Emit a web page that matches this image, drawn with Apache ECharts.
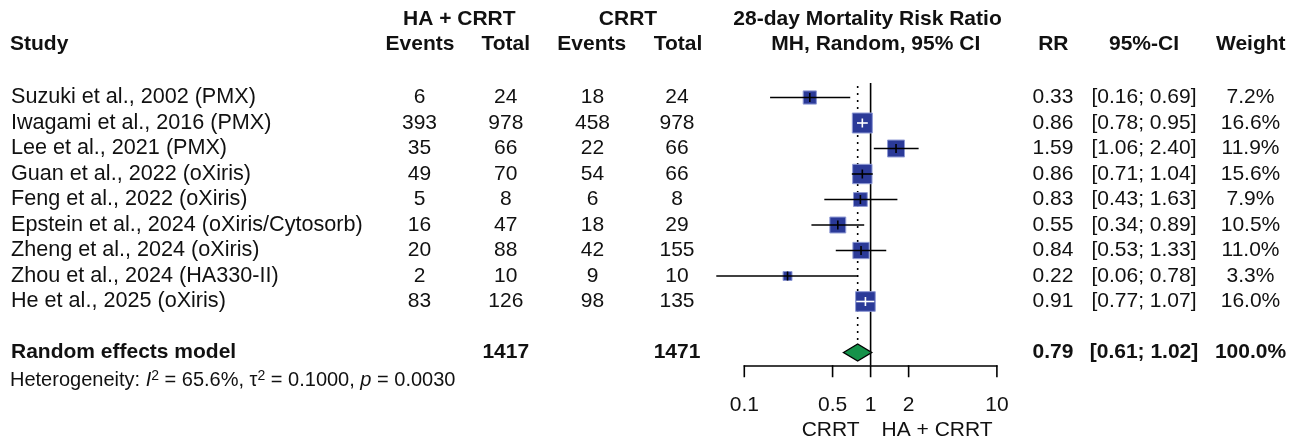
<!DOCTYPE html>
<html><head><meta charset="utf-8">
<script src="https://cdn.jsdelivr.net/npm/echarts@6/dist/echarts.min.js"></script>
<style>html,body{margin:0;padding:0;background:#fff}#c{width:1303px;height:443px}</style>
</head><body><div id="c"></div>
<script>
// ---------- data ----------
const studies = [
  'Suzuki et al., 2002 (PMX)',
  'Iwagami et al., 2016 (PMX)',
  'Lee et al., 2021 (PMX)',
  'Guan et al., 2022 (oXiris)',
  'Feng et al., 2022 (oXiris)',
  'Epstein et al., 2024 (oXiris/Cytosorb)',
  'Zheng et al., 2024 (oXiris)',
  'Zhou et al., 2024 (HA330-II)',
  'He et al., 2025 (oXiris)'
];
const eventsHA   = [6, 393, 35, 49, 5, 16, 20, 2, 83];
const totalHA    = [24, 978, 66, 70, 8, 47, 88, 10, 126];
const eventsCRRT = [18, 458, 22, 54, 6, 18, 42, 9, 98];
const totalCRRT  = [24, 978, 66, 66, 8, 29, 155, 10, 135];
const rr     = [0.33, 0.86, 1.59, 0.86, 0.83, 0.55, 0.84, 0.22, 0.91];
const ciLow  = [0.16, 0.78, 1.06, 0.71, 0.43, 0.34, 0.53, 0.06, 0.77];
const ciHigh = [0.69, 0.95, 2.40, 1.04, 1.63, 0.89, 1.33, 0.78, 1.07];
const weight = [7.2, 16.6, 11.9, 15.6, 7.9, 10.5, 11.0, 3.3, 16.0];
const pooledRR = 0.79, pooledLow = 0.61, pooledHigh = 1.02;
const pooledTotalHA = 1417, pooledTotalCRRT = 1471, pooledWeight = 100.0;
const hetI2 = '65.6%', hetTau2 = '0.1000', hetP = '0.0030';
const xTicks = [0.1, 0.5, 1, 2, 10];

// ---------- layout / style ----------
const FONT = '"Liberation Sans", Arial, Helvetica, sans-serif';
const FS = 21;
const FS_STUDY = 21.6;
const TXT = '#111';
const SQ_FILL = '#2b3a98', SQ_EDGE = '#8e99d4', DIA_FILL = '#15924a';
const col = {study: 11, evHA: 419.5, totHA: 505.8, evC: 592.5, totC: 677, rr: 1053, ci: 1144, w: 1250.5};
const pooledRow = studies.length + 1;   // row index of the summary line
const rowHead1 = -3.07, rowHead2 = -2.1, rowHet = 11.1, rowSide = 13.04;
const Y_MIN = -3.5, Y_MAX = 10.5;
const GRID_TOP = 8.25, GRID_H = 357;
const DIA_H = 8.5;   // px half-height of diamond

const texts = [];
function T(x, row, text, opt) { texts.push(Object.assign({x, row, text}, opt || {})); }
// headers
T(459.3, rowHead1, 'HA + CRRT', {bold: true});
T(628, rowHead1, 'CRRT', {bold: true});
T(867.5, rowHead1, '28-day Mortality Risk Ratio', {bold: true});
T(10, rowHead2, 'Study', {bold: true, align: 'left'});
T(420, rowHead2, 'Events', {bold: true});
T(505.8, rowHead2, 'Total', {bold: true});
T(591.7, rowHead2, 'Events', {bold: true});
T(678, rowHead2, 'Total', {bold: true});
T(875.8, rowHead2, 'MH, Random, 95% CI', {bold: true});
T(1053.3, rowHead2, 'RR', {bold: true});
T(1144, rowHead2, '95%-CI', {bold: true});
T(1250.8, rowHead2, 'Weight', {bold: true});
// study rows
studies.forEach((s, i) => {
  T(col.study, i, s, {align: 'left', fs: FS_STUDY});
  T(col.evHA, i, String(eventsHA[i]));
  T(col.totHA, i, String(totalHA[i]));
  T(col.evC, i, String(eventsCRRT[i]));
  T(col.totC, i, String(totalCRRT[i]));
  T(col.rr, i, rr[i].toFixed(2));
  T(col.ci, i, '[' + ciLow[i].toFixed(2) + '; ' + ciHigh[i].toFixed(2) + ']');
  T(col.w, i, weight[i].toFixed(1) + '%');
});
// pooled row
T(col.study, pooledRow, 'Random effects model', {bold: true, align: 'left'});
T(col.totHA, pooledRow, String(pooledTotalHA), {bold: true});
T(col.totC, pooledRow, String(pooledTotalCRRT), {bold: true});
T(col.rr, pooledRow, pooledRR.toFixed(2), {bold: true});
T(col.ci, pooledRow, '[' + pooledLow.toFixed(2) + '; ' + pooledHigh.toFixed(2) + ']', {bold: true});
T(col.w, pooledRow, pooledWeight.toFixed(1) + '%', {bold: true});
// heterogeneity
T(10, rowHet, '{n|Heterogeneity: }{i|I}{s|2}{n| = ' + hetI2 + ', τ}{s|2}{n| = ' + hetTau2 + ', }{i|p}{n| = ' + hetP + '}', {align: 'left', rich: true});

const chart = echarts.init(document.getElementById('c'), null, {renderer: 'canvas'});

const yAxisBase = {type: 'value', inverse: true, min: Y_MIN, max: Y_MAX, show: false};

const option = {
  animation: false,
  backgroundColor: '#fff',
  grid: [
    {left: 744.3, width: 252.6, top: GRID_TOP, height: GRID_H},
    {left: 0, width: 1303, top: GRID_TOP, height: GRID_H}
  ],
  xAxis: [
    {type: 'log', logBase: 10, min: 0.1, max: 10, gridIndex: 0, position: 'bottom',
     axisLine: {show: true, onZero: false, lineStyle: {color: '#000', width: 1.6}},
     axisTick: {show: false}, axisLabel: {show: false}, splitLine: {show: false}},
    {type: 'value', min: 0, max: 1303, gridIndex: 1, show: false}
  ],
  yAxis: [
    Object.assign({gridIndex: 0}, yAxisBase),
    Object.assign({gridIndex: 1}, yAxisBase)
  ],
  series: [
    // reference lines (no effect, pooled estimate)
    {
      type: 'custom', xAxisIndex: 0, yAxisIndex: 0, clip: false, z: 1,
      data: [[1, -0.57, Y_MAX, 0], [pooledRR, -0.45, pooledRow, 1]],
      renderItem: function (params, api) {
        const a = api.coord([api.value(0), api.value(1)]);
        const b = api.coord([api.value(0), api.value(2)]);
        const dotted = api.value(3) === 1;
        return {type: 'line', shape: {x1: a[0], y1: a[1], x2: b[0], y2: dotted ? b[1] - DIA_H : b[1]},
          style: {stroke: '#000', lineWidth: 1.6, lineDash: dotted ? [2, 5] : null}};
      }
    },
    // study squares and CIs
    {
      type: 'custom', xAxisIndex: 0, yAxisIndex: 0, clip: false, z: 3,
      data: studies.map((s, i) => [rr[i], i, ciLow[i], ciHigh[i], weight[i]]),
      renderItem: function (params, api) {
        const row = api.value(1);
        const c = api.coord([api.value(0), row]);
        const l = api.coord([api.value(2), row]);
        const h = api.coord([api.value(3), row]);
        const size = 20 * Math.sqrt(api.value(4) / 16.6);
        const inside = l[0] >= c[0] - size / 2 && h[0] <= c[0] + size / 2;
        const lc = inside ? '#fff' : '#000';
        return {type: 'group', children: [
          {type: 'rect', shape: {x: c[0] - size / 2, y: c[1] - size / 2, width: size, height: size},
            style: {fill: SQ_FILL, stroke: SQ_EDGE, lineWidth: 1}},
          {type: 'line', shape: {x1: l[0], y1: c[1], x2: h[0], y2: c[1]}, style: {stroke: lc, lineWidth: 1.6}},
          {type: 'line', shape: {x1: c[0], y1: c[1] - 4.5, x2: c[0], y2: c[1] + 4.5}, style: {stroke: lc, lineWidth: 1.6}}
        ]};
      }
    },
    // pooled diamond
    {
      type: 'custom', xAxisIndex: 0, yAxisIndex: 0, clip: false, z: 4,
      data: [[pooledRR, pooledRow, pooledLow, pooledHigh]],
      renderItem: function (params, api) {
        const row = api.value(1);
        const c = api.coord([api.value(0), row]);
        const l = api.coord([api.value(2), row]);
        const h = api.coord([api.value(3), row]);
        return {type: 'polygon', shape: {points: [[l[0], c[1]], [c[0], c[1] - DIA_H], [h[0], c[1]], [c[0], c[1] + DIA_H]]},
          style: {fill: DIA_FILL, stroke: '#000', lineWidth: 1.4}};
      }
    },
    // axis ticks and tick labels
    {
      type: 'custom', xAxisIndex: 0, yAxisIndex: 0, clip: false, z: 2,
      data: xTicks.map(v => [v, Y_MAX]),
      renderItem: function (params, api) {
        const p = api.coord([api.value(0), api.value(1)]);
        return {type: 'group', children: [
          {type: 'line', shape: {x1: p[0], y1: p[1], x2: p[0], y2: p[1] + 12}, style: {stroke: '#000', lineWidth: 1.6}},
          {type: 'text', x: p[0], y: p[1] + 40, style: {text: String(xTicks[params.dataIndex]), fill: TXT,
            fontFamily: FONT, fontSize: FS, align: 'center', verticalAlign: 'middle'}}
        ]};
      }
    },
    // side labels under axis
    {
      type: 'custom', xAxisIndex: 0, yAxisIndex: 0, clip: false, z: 2,
      data: [[1, rowSide, -1], [1, rowSide, 1]],
      renderItem: function (params, api) {
        const p = api.coord([api.value(0), api.value(1)]);
        const side = api.value(2);
        return {type: 'text', x: p[0] + side * 11, y: p[1], style: {text: side < 0 ? 'CRRT' : 'HA + CRRT', fill: TXT,
          fontFamily: FONT, fontSize: FS, align: side < 0 ? 'right' : 'left', verticalAlign: 'middle'}};
      }
    },
    // table texts
    {
      type: 'custom', xAxisIndex: 1, yAxisIndex: 1, clip: false, z: 5,
      data: texts.map(t => [t.x, t.row]),
      renderItem: function (params, api) {
        const t = texts[params.dataIndex];
        const p = api.coord([api.value(0), api.value(1)]);
        const style = {text: t.text, fill: TXT, fontFamily: FONT, fontSize: t.fs || FS,
          fontWeight: t.bold ? 'bold' : 'normal', align: t.align || 'center', verticalAlign: 'middle'};
        if (t.rich) {
          style.rich = {
            n: {fontSize: 20, fontFamily: FONT, fill: TXT, lineHeight: 23},
            i: {fontSize: 20, fontFamily: FONT, fill: TXT, fontStyle: 'italic', lineHeight: 23},
            s: {fontSize: 14, fontFamily: FONT, fill: TXT, lineHeight: 14, verticalAlign: 'top'}
          };
        }
        return {type: 'text', x: p[0], y: p[1], style: style};
      }
    }
  ]
};
chart.setOption(option);
</script>
</body></html>
